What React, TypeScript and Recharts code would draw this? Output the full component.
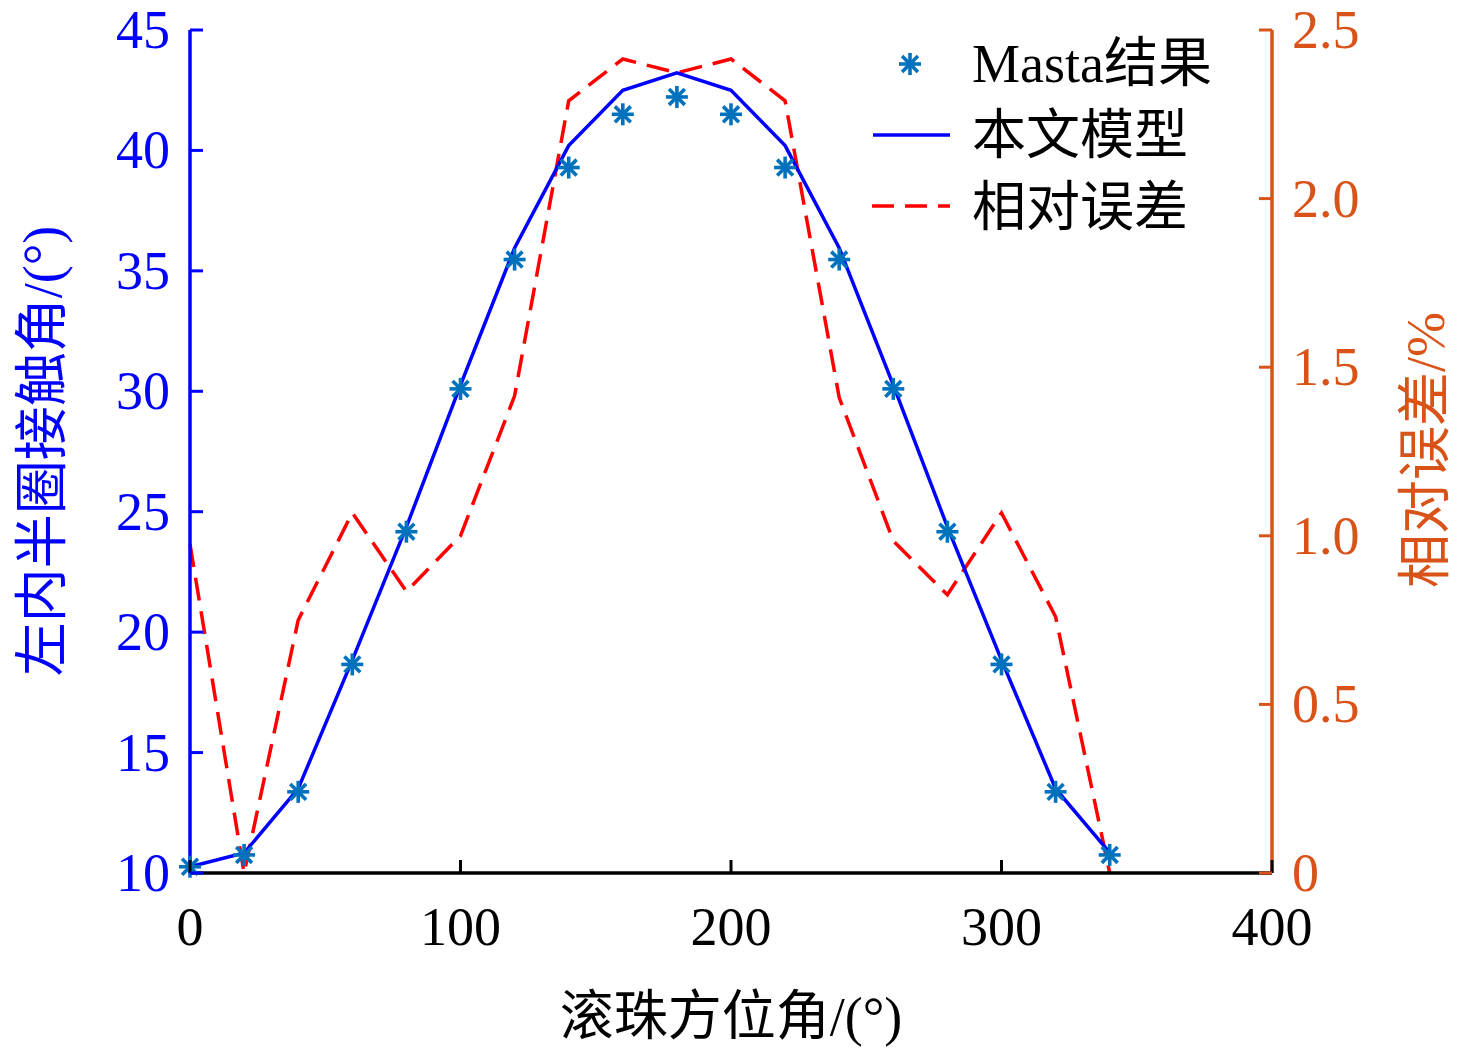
import React from "react";
import { ComposedChart, Line, XAxis, YAxis, Legend } from "recharts";

const angles = [0, 20, 40, 60, 80, 100, 120, 140, 160, 180, 200, 220, 240, 260, 280, 300, 320, 340];
const mastaValues = [10.26, 10.75, 13.37, 18.66, 24.17, 30.1, 35.47, 39.29, 41.5, 42.22, 41.5, 39.29, 35.47, 30.1, 24.17, 18.66, 13.37, 10.75];
const modelValues = [10.26, 10.83, 13.5, 18.84, 24.37, 30.26, 35.95, 40.2, 42.5, 43.22, 42.5, 40.2, 35.95, 30.26, 24.37, 18.84, 13.5, 10.85];
const errorValues = [0.975, 0, 0.75, 1.068, 0.835, 1.0, 1.415, 2.29, 2.414, 2.373, 2.414, 2.29, 1.41, 0.985, 0.825, 1.068, 0.76, 0];

const xTicks = [0, 100, 200, 300, 400];
const leftTicks = [10, 15, 20, 25, 30, 35, 40, 45];
const rightTicks = [0, 0.5, 1.0, 1.5, 2.0, 2.5];
const rightTickLabels = ["0", "0.5", "1.0", "1.5", "2.0", "2.5"];

const seriesNames = ["Masta结果", "本文模型", "相对误差"];

const data = angles.map((a, i) => ({
  x: a,
  masta: mastaValues[i],
  model: modelValues[i],
  err: errorValues[i],
}));

const FONT = "'Times New Roman', 'Liberation Serif', 'Noto Sans CJK SC', serif";
const BLUE = "#0000FF";
const ORANGE = "#D95319";
const RED = "#FF0000";
const STAR = "#0072BD";
const FS = 54;
const TICK_LEN = 13;
const MARGIN = 20;
const LW = 3.5;

const Asterisk = ({ cx, cy, r = 11 }: any) => {
  if (cx == null || cy == null) return null;
  const d = r * 0.72;
  return (
    <g stroke={STAR} strokeWidth={3.6} strokeLinecap="butt">
      <line x1={cx} y1={cy - r} x2={cx} y2={cy + r} />
      <line x1={cx - r} y1={cy} x2={cx + r} y2={cy} />
      <line x1={cx - d} y1={cy - d} x2={cx + d} y2={cy + d} />
      <line x1={cx - d} y1={cy + d} x2={cx + d} y2={cy - d} />
    </g>
  );
};

const LeftTick = (props: any) => {
  const { x, y, payload } = props;
  const ax = x + MARGIN;
  return (
    <g>
      <line x1={ax} y1={y} x2={ax + TICK_LEN} y2={y} stroke={BLUE} strokeWidth={3} />
      <text x={x} y={y + 18} textAnchor="end" fill={BLUE} fontSize={FS} fontFamily={FONT}>
        {payload.value}
      </text>
    </g>
  );
};

const RightTick = (props: any) => {
  const { x, y, payload, index } = props;
  const ax = x - MARGIN;
  return (
    <g>
      <line x1={ax} y1={y} x2={ax - TICK_LEN} y2={y} stroke={ORANGE} strokeWidth={3} />
      <text x={x} y={y + 18} textAnchor="start" fill={ORANGE} fontSize={FS} fontFamily={FONT}>
        {rightTickLabels[index] ?? payload.value}
      </text>
    </g>
  );
};

const BottomTick = (props: any) => {
  const { x, y, payload } = props;
  const ay = y - 30;
  return (
    <g>
      <line x1={x} y1={ay} x2={x} y2={ay - TICK_LEN} stroke="#000" strokeWidth={3} />
      <text x={x} y={ay + 72} textAnchor="middle" fill="#000" fontSize={FS} fontFamily={FONT}>
        {payload.value}
      </text>
    </g>
  );
};

const renderLegend = () => (
  <svg width={420} height={230} style={{ overflow: "visible" }}>
    <Asterisk cx={60} cy={44} r={11} />
    <line x1={23} y1={115} x2={100} y2={115} stroke={BLUE} strokeWidth={LW} />
    <line x1={22} y1={186} x2={100} y2={186} stroke={RED} strokeWidth={LW} strokeDasharray="22 11" />
    <text x={122} y={62} fontSize={FS} fontFamily={FONT} fill="#000">{seriesNames[0]}</text>
    <text x={122} y={134} fontSize={FS} fontFamily={FONT} fill="#000">{seriesNames[1]}</text>
    <text x={122} y={206} fontSize={FS} fontFamily={FONT} fill="#000">{seriesNames[2]}</text>
  </svg>
);

const XLabel = (props: any) => {
  const vb = props.viewBox || {};
  return (
    <text x={vb.x + vb.width / 2} y={vb.y + 162} textAnchor="middle" fontSize={FS} fontFamily={FONT} fill="#000">
      滚珠方位角/(°)
    </text>
  );
};

const LeftLabel = () => (
  <text x={43} y={451} transform="rotate(-90 43 451)" textAnchor="middle" dominantBaseline="central" fontSize={FS} fontFamily={FONT} fill={BLUE}>
    左内半圈接触角/(°)
  </text>
);

const RightLabel = () => (
  <text x={1426} y={450} transform="rotate(-90 1426 450)" textAnchor="middle" dominantBaseline="central" fontSize={FS} fontFamily={FONT} fill={ORANGE}>
    相对误差/%
  </text>
);

export default function App() {
  return (
    <div style={{ position: "absolute", left: 0, top: 0, width: 1476, height: 1050, background: "#fff" }}>
      <ComposedChart width={1476} height={1050} data={data} margin={{ top: 30, right: 104, bottom: 77, left: 90 }}>
        <XAxis
          dataKey="x"
          type="number"
          domain={[0, 400]}
          ticks={xTicks}
          height={100}
          axisLine={{ stroke: "#000", strokeWidth: 3.5 }}
          tickLine={false}
          tickSize={0}
          tickMargin={30}
          tick={<BottomTick />}
          interval={0}
          label={<XLabel />}
        />
        <YAxis
          yAxisId="left"
          orientation="left"
          domain={[10, 45]}
          ticks={leftTicks}
          width={100}
          axisLine={{ stroke: BLUE, strokeWidth: 3.5 }}
          tickLine={false}
          tickSize={0}
          tickMargin={MARGIN}
          tick={<LeftTick />}
          interval={0}
          label={<LeftLabel />}
        />
        <YAxis
          yAxisId="right"
          orientation="right"
          domain={[0, 2.5]}
          ticks={rightTicks}
          width={100}
          axisLine={{ stroke: ORANGE, strokeWidth: 3.5 }}
          tickLine={false}
          tickSize={0}
          tickMargin={MARGIN}
          tick={<RightTick />}
          interval={0}
          label={<RightLabel />}
        />
        <Line
          yAxisId="right"
          type="linear"
          dataKey="err"
          name={seriesNames[2]}
          stroke={RED}
          strokeWidth={LW}
          strokeDasharray="23 11"
          dot={false}
          activeDot={false}
          isAnimationActive={false}
        />
        <Line
          yAxisId="left"
          type="linear"
          dataKey="model"
          name={seriesNames[1]}
          stroke={BLUE}
          strokeWidth={LW}
          dot={false}
          activeDot={false}
          isAnimationActive={false}
        />
        <Line
          yAxisId="left"
          type="linear"
          dataKey="masta"
          name={seriesNames[0]}
          stroke="none"
          strokeWidth={0}
          dot={(p: any) => <Asterisk key={`s${p.index}`} cx={p.cx} cy={p.cy} r={11} />}
          activeDot={false}
          isAnimationActive={false}
        />
        <Legend
          layout="vertical"
          align="center"
          verticalAlign="middle"
          content={renderLegend}
          wrapperStyle={{ position: "absolute", left: 850, top: 20, width: 420, height: 230 }}
        />
      </ComposedChart>
    </div>
  );
}
